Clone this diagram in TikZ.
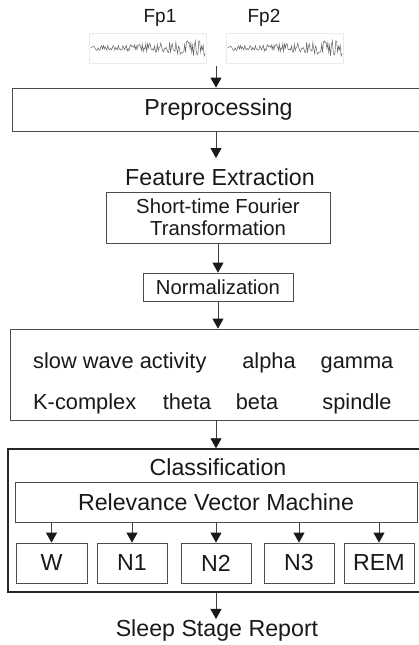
\documentclass[tikz,border=0pt]{standalone}
\usepackage{fontspec}
\setmainfont{Liberation Sans}
\usetikzlibrary{arrows.meta}
\begin{document}
\begin{tikzpicture}[x=1pt,y=-1pt,
  box/.style={draw=black!70, line width=0.8pt, inner sep=0pt, text=black!90},
  txt/.style={inner sep=0pt, text=black!90},
  big/.style={font=\fontsize{23.2}{27}\selectfont},
  feat/.style={font=\fontsize{21.8}{26}\selectfont, inner sep=0pt, text=black!90, anchor=base},
  mid/.style={font=\fontsize{20.3}{24}\selectfont},
  sml/.style={font=\fontsize{19}{22}\selectfont},
  arr/.style={draw=black!75, line width=0.8pt, -{Triangle[length=10pt,width=11pt,color=black!90]}},
  sig/.style={draw=black!8, line width=0.5pt, minimum width=117pt, minimum height=30pt, inner sep=0pt}
]
\useasboundingbox (0,0) rectangle (419,645);
\clip (0,0) rectangle (419,645);
\fill[white] (0,0) rectangle (419,645);

% inputs
\node[txt, sml] (fp1) at (160,18) {Fp1};
\node[txt, sml] (fp2) at (264,18) {Fp2};
\node[sig] (sig1) at (148,48) {};
\node[sig] (sig2) at (285,48) {};
\pgfmathsetseed{11}
\draw[black!60, line width=0.5pt] plot[domain=91:205, samples=130] (\x, {48 + (3+6*((\x-91)/114)^2)*rand});
\pgfmathsetseed{11}
\draw[black!60, line width=0.5pt] plot[domain=228:342, samples=130] (\x, {48 + (3+6*((\x-228)/114)^2)*rand});
\coordinate (in) at (216,66);

% preprocessing
\node[box, big, minimum width=413pt, minimum height=43pt] (pre) at (218.5,109.5) {Preprocessing};
\draw[arr] (in) -- (pre.north -| in);

% feature extraction
\node[txt, big] (fe) at (220,177) {Feature Extraction};
\draw[arr] (pre.south -| 216,0) -- (216,158);
\node[box, mid, minimum width=224pt, minimum height=51pt, align=center] (stft) at (218,217.5) {Short-time Fourier\\[-2pt]Transformation};
\node[box, mid, minimum width=150pt, minimum height=28pt] (norm) at (218,287) {Normalization};
\draw[arr] (stft.south) -- (norm.north);

% features
\node[box, minimum width=420pt, minimum height=91pt] (featbox) at (220,374.5) {};
\draw[arr] (norm.south) -- (featbox.north -| norm.south);
\node[feat, anchor=base west] (swa) at (33,368) {slow wave activity};
\node[feat] (alpha) at (269,368) {alpha};
\node[feat] (gamma) at (357,368) {gamma};
\node[feat, anchor=base west] (kc) at (33,409) {K-complex};
\node[feat] (theta) at (187,409) {theta};
\node[feat] (beta) at (257,409) {beta};
\node[feat] (spindle) at (357,409) {spindle};

% classification
\node[draw=black!85, line width=1.4pt, minimum width=425pt, minimum height=143pt, inner sep=0pt] (cls) at (220.5,520.5) {};
\draw[arr] (featbox.south -| 216,0) -- (cls.north -| 216,0);
\node[txt, big] (clst) at (218,467) {Classification};
\node[box, big, minimum width=402pt, minimum height=40pt] (rvm) at (216,502) {Relevance Vector Machine};

\foreach \n/\t/\cx/\w in {w/W/51.5/71, n1/N1/132/70, n2/N2/216/70, n3/N3/299/70, rem/REM/379/70}{
  \node[box, big, minimum width=\w pt, minimum height=40pt] (\n) at (\cx,563) {\t};
  \draw[arr] (rvm.south -| \n.north) -- (\n.north);
}

% report
\node[txt, big] (rep) at (217,630) {Sleep Stage Report};
\draw[arr] (cls.south -| 216,0) -- (rep.north -| 216,0);
\end{tikzpicture}
\end{document}
